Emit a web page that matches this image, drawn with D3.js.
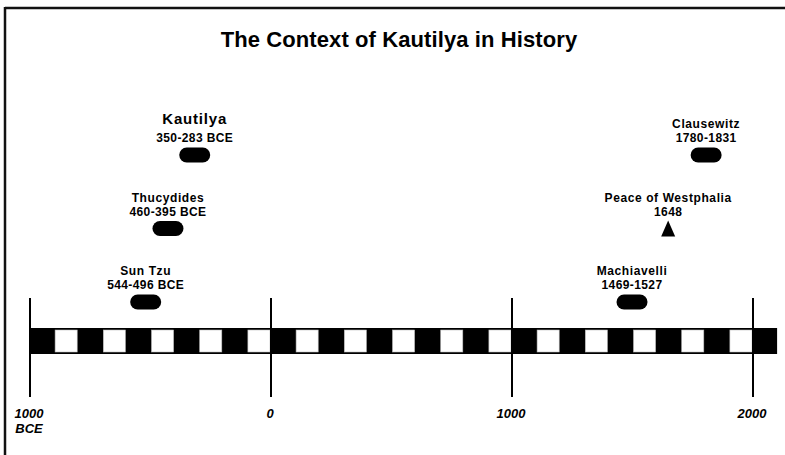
<!DOCTYPE html>
<html>
<head>
<meta charset="utf-8">
<script src="https://cdn.jsdelivr.net/npm/d3@7/dist/d3.min.js"></script>
<style>
  html, body { margin: 0; padding: 0; background: #fff; }
  svg { display: block; }
  text { font-family: "Liberation Sans", Arial, sans-serif; fill: #000; }
</style>
</head>
<body>
<svg id="chart" width="785" height="455"></svg>
<script>
// ---- data ----
const title = "The Context of Kautilya in History";
const eventNames = ["Sun Tzu", "Thucydides", "Kautilya", "Machiavelli", "Peace of Westphalia", "Clausewitz"];
const eventDates = ["544-496 BCE", "460-395 BCE", "350-283 BCE", "1469-1527", "1648", "1780-1831"];
const startYears = [-544, -460, -350, 1469, 1648, 1780];
const endYears = [-496, -395, -283, 1527, 1648, 1831];
const tiers = [1, 2, 3, 1, 2, 3];
const markerTypes = ["span", "span", "span", "span", "point", "span"];
const highlight = [false, false, true, false, false, false];
const tickYears = [-1000, 0, 1000, 2000];
const tickLabels = [["1000", "BCE"], ["0"], ["1000"], ["2000"]];
const barStart = -1000, barEnd = 2100, segmentYears = 100;

// ---- layout ----
const svg = d3.select("#chart");
const x = d3.scaleLinear().domain([-1000, 2000]).range([30, 753]);
const tierY = d3.scalePoint().domain([3, 2, 1]).range([155, 302]);
const barTop = 328, barBottom = 354;

// frame
svg.append("line").attr("x1", 5).attr("x2", 785).attr("y1", 8).attr("y2", 8)
  .attr("stroke", "#111").attr("stroke-width", 2.5);
svg.append("line").attr("x1", 5).attr("x2", 5).attr("y1", 7).attr("y2", 455)
  .attr("stroke", "#111").attr("stroke-width", 2.5);

// title
svg.append("text").attr("x", 399).attr("y", 47).attr("text-anchor", "middle")
  .attr("font-size", 22).attr("font-weight", "bold").attr("letter-spacing", 0.1)
  .text(title);

// timeline bar
const segs = d3.range(barStart, barEnd, segmentYears);
svg.append("rect").attr("x", x(barStart)).attr("y", barTop)
  .attr("width", x(barEnd) - x(barStart)).attr("height", barBottom - barTop)
  .attr("fill", "#000");
svg.append("g").selectAll("rect")
  .data(segs.filter((d, i) => i % 2 === 1))
  .join("rect")
  .attr("x", d => x(d) + 1)
  .attr("y", barTop + 2)
  .attr("width", d => x(d + segmentYears) - x(d) - 2)
  .attr("height", barBottom - barTop - 4)
  .attr("fill", "#fff")
  .attr("stroke", "#bbb").attr("stroke-width", 0.6);

// ticks
svg.append("g").selectAll("line").data(tickYears).join("line")
  .attr("x1", d => x(d)).attr("x2", d => x(d))
  .attr("y1", 298).attr("y2", 397)
  .attr("stroke", "#000").attr("stroke-width", 2);

const tl = svg.append("g").selectAll("text").data(tickYears).join("text")
  .attr("x", d => x(d) - 1)
  .attr("y", 418)
  .attr("text-anchor", "middle")
  .attr("font-size", 13).attr("font-weight", "bold").attr("font-style", "italic");
tl.each(function(d, i) {
  const t = d3.select(this);
  tickLabels[i].forEach((s, j) => {
    t.append("tspan").attr("x", x(d) - 1).attr("dy", j === 0 ? 0 : 15).text(s);
  });
});

// events
const events = eventNames.map((n, i) => ({
  name: n, date: eventDates[i], start: startYears[i], end: endYears[i],
  tier: tiers[i], type: markerTypes[i], big: highlight[i]
}));

const g = svg.append("g").selectAll("g").data(events).join("g");
const cx = d => x((d.start + d.end) / 2);
const pillW = d => Math.max(31, x(d.end) - x(d.start));

g.filter(d => d.type === "span").append("rect")
  .attr("width", pillW)
  .attr("height", 15)
  .attr("x", d => cx(d) - pillW(d) / 2)
  .attr("y", d => tierY(d.tier) - 7.5)
  .attr("rx", 7.5).attr("ry", 7.5)
  .attr("fill", "#000");

g.filter(d => d.type === "point").append("path")
  .attr("d", d => {
    const px = cx(d), py = tierY(d.tier);
    return `M${px},${py - 8} L${px + 7},${py + 8} L${px - 7},${py + 8} Z`;
  })
  .attr("fill", "#000");

g.append("text")
  .attr("x", cx)
  .attr("y", d => tierY(d.tier) - (d.big ? 31 : 27))
  .attr("text-anchor", "middle")
  .attr("font-size", d => d.big ? 15 : 12)
  .attr("font-weight", "bold")
  .attr("letter-spacing", d => d.big ? 0.8 : 0.6)
  .text(d => d.name);

g.append("text")
  .attr("x", cx)
  .attr("y", d => tierY(d.tier) - 13)
  .attr("text-anchor", "middle")
  .attr("font-size", 12)
  .attr("font-weight", "bold")
  .attr("letter-spacing", 0.4)
  .text(d => d.date);
</script>
</body>
</html>
